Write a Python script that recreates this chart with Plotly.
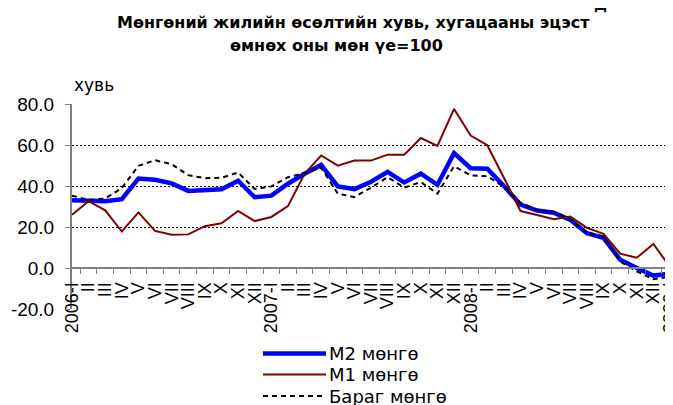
import plotly.graph_objects as go

periods = ["2006-I", "2006-II", "2006-III", "2006-IV", "2006-V", "2006-VI",
           "2006-VII", "2006-VIII", "2006-IX", "2006-X", "2006-XI", "2006-XII",
           "2007-I", "2007-II", "2007-III", "2007-IV", "2007-V", "2007-VI",
           "2007-VII", "2007-VIII", "2007-IX", "2007-X", "2007-XI", "2007-XII",
           "2008-I", "2008-II", "2008-III", "2008-IV", "2008-V", "2008-VI",
           "2008-VII", "2008-VIII", "2008-IX", "2008-X", "2008-XI", "2008-XII",
           "2009-I"]
tick_labels = ["2006-I", "II", "III", "IV", "V", "VI", "VII", "VIII", "IX", "X", "XI", "XII",
               "2007-I", "II", "III", "IV", "V", "VI", "VII", "VIII", "IX", "X", "XI", "XII",
               "2008-I", "II", "III", "IV", "V", "VI", "VII", "VIII", "IX", "X", "XI", "XII",
               "2009-I"]

m2 = [33.0, 32.6, 32.6, 33.6, 43.6, 43.0, 41.3, 37.6, 37.9, 38.4, 42.6, 34.5,
      35.3, 41.1, 46.0, 50.3, 39.8, 38.5, 42.1, 46.9, 41.7, 46.0, 40.6, 56.0,
      48.7, 48.4, 40.0, 30.9, 28.0, 27.0, 23.5, 17.0, 14.7, 4.0, 0.0, -3.7,
      -2.8]
m1 = [26.0, 32.6, 28.1, 17.8, 27.1, 18.1, 16.2, 16.4, 20.4, 21.8, 27.8, 22.9,
      24.9, 30.2, 46.0, 54.9, 49.9, 52.4, 52.4, 55.3, 55.3, 63.4, 59.6, 77.6,
      64.6, 59.9, 44.0, 27.8, 25.9, 23.8, 25.1, 19.6, 16.7, 7.0, 5.0, 11.7,
      0.5]
barag = [35.3, 33.2, 33.9, 39.0, 49.8, 52.6, 50.6, 45.3, 43.8, 44.0, 46.6, 38.5,
         39.8, 44.3, 46.3, 48.9, 36.3, 34.6, 39.2, 44.3, 39.2, 41.9, 36.3, 49.6,
         45.2, 44.8, 39.6, 31.9, 28.3, 27.5, 23.8, 17.3, 15.4, 3.2, -1.6, -5.5,
         -4.2]

y_ticks = [-20, 0, 20, 40, 60, 80]
y_tick_labels = ["-20.0", "0.0", "20.0", "40.0", "60.0", "80.0"]

series_names = ["M2 мөнгө", "M1 мөнгө", "Бараг мөнгө"]
title1 = "Мөнгөний жилийн өсөлтийн хувь, хугацааны эцэст"
title2 = "өмнөх оны мөн үе=100"
unit = "хувь"

FONT = "Liberation Sans, Arial, sans-serif"
CYR = "DejaVu Sans, Liberation Sans, sans-serif"   # wider cyrillic, closer to the original

# the page body has an 8px margin, so the figure is made 8px smaller
OFF = 8
W, H = 673 - OFF, 405 - OFF
L, R, T, B = 64, 3, 96, 96


def px(x):
    # picture x (pixels) -> paper coordinate
    return (x - OFF - L) / (W - L - R)


def py(y):
    # picture y (pixels) -> paper coordinate
    return (H - B - (y - OFF)) / (H - T - B)


styles = [dict(color="#0000FF", width=4.5),
          dict(color="#800000", width=2),
          dict(color="#000000", width=2, dash="5px,4px")]

fig = go.Figure()
for name, vals, st in zip(series_names, [m2, m1, barag], styles):
    fig.add_trace(go.Scatter(x=periods, y=vals, mode="lines", name=name,
                             line=st, showlegend=False))

# legend drawn by hand so the sample lines are long like the original
leg_y = [353.5, 374.5, 396]
for name, st, ly in zip(series_names, styles, leg_y):
    fig.add_shape(type="line", xref="paper", yref="paper",
                  x0=px(263), x1=px(326), y0=py(ly), y1=py(ly), line=st)
    fig.add_annotation(text=name, xref="paper", yref="paper", x=px(327), y=py(ly),
                       xanchor="left", yanchor="middle", showarrow=False,
                       font=dict(size=18, color="black", family=CYR))

fig.add_annotation(text=title1, xref="paper", yref="paper", x=px(115), y=py(22.5),
                   xanchor="left", yanchor="middle", showarrow=False,
                   font=dict(size=16, color="black", family=CYR, weight="bold"))
fig.add_annotation(text=title2, xref="paper", yref="paper", x=px(228), y=py(46),
                   xanchor="left", yanchor="middle", showarrow=False,
                   font=dict(size=16, color="black", family=CYR, weight="bold"))
fig.add_annotation(text=unit, xref="paper", yref="paper", x=px(72), y=py(85),
                   xanchor="left", yanchor="middle", showarrow=False,
                   font=dict(size=17, color="black", family=CYR))
# bottom of a letter from text above the crop
fig.add_annotation(text="д", xref="paper", yref="paper", x=px(592), y=py(16),
                   xanchor="left", yanchor="bottom", showarrow=False,
                   font=dict(size=16, color="black", family=CYR, weight="bold"))

fig.update_layout(
    width=W, height=H,
    margin=dict(l=L, r=R, t=T, b=B, pad=0, autoexpand=False),
    plot_bgcolor="white", paper_bgcolor="white",
    font=dict(family=FONT, color="black"),
    xaxis=dict(type="category", tickmode="array", tickvals=periods, ticktext=tick_labels,
               tickangle=-90, tickfont=dict(size=18), anchor="free", position=0.2,
               showline=True, linecolor="#808080", linewidth=2,
               ticks="outside", ticklen=5, tickcolor="#808080", tickwidth=1,
               tickson="boundaries", showgrid=False, zeroline=False,
               ticklabelstandoff=6, ticklabeloverflow="allow", automargin=False),
    yaxis=dict(range=[-20, 80], tickmode="array", tickvals=y_ticks, ticktext=y_tick_labels,
               tickfont=dict(size=19),
               showgrid=True, gridcolor="black", gridwidth=1, griddash="2px,2px",
               zeroline=False, showline=True, linecolor="#808080", linewidth=2,
               ticks="outside", ticklen=5, tickcolor="#808080", tickwidth=1,
               ticklabelstandoff=7, ticklabeloverflow="allow", automargin=False),
)

fig.write_html("out.html")
